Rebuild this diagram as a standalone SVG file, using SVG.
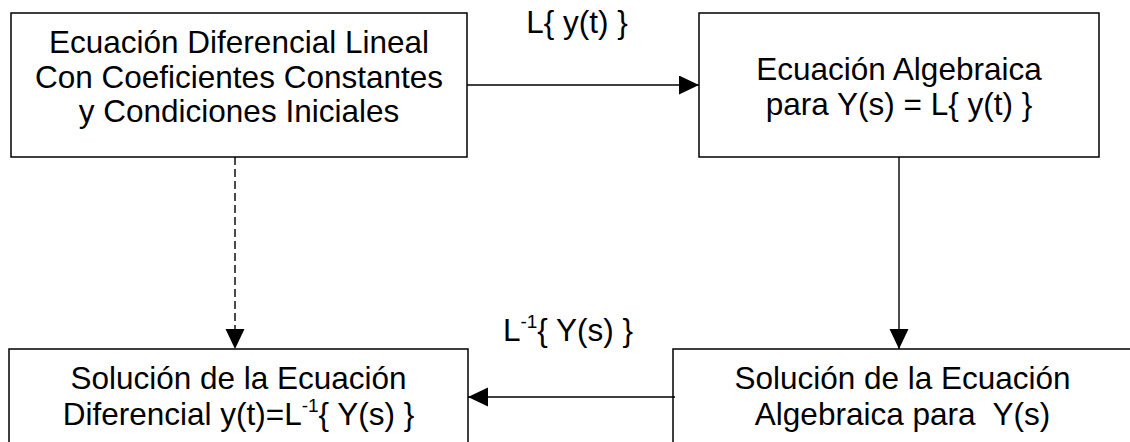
<svg xmlns="http://www.w3.org/2000/svg" width="1130" height="442" viewBox="0 0 1130 442">
  <style>
    .box { fill: #ffffff; stroke: #000000; stroke-width: 1.5; }
    .t { font-family: "Liberation Sans", Arial, sans-serif; font-size: 31.5px; fill: #000000; text-anchor: middle; }
    .sup { font-size: 19px; }
    .con { stroke: #000000; stroke-width: 1.4; fill: none; }
    .dash { stroke-dasharray: 8 4; }
  </style>
  <defs>
    <marker id="arrow" markerUnits="userSpaceOnUse" markerWidth="21" markerHeight="20" refX="20" refY="9.5" orient="auto">
      <path d="M0,0 L20,9.5 L0,19 Z" fill="#000000"/>
    </marker>
  </defs>
  <rect width="1130" height="442" fill="#ffffff"/>

  <g id="n1">
    <rect class="box" x="11" y="13" width="456" height="144"/>
    <text class="t" x="239" y="53">Ecuación Diferencial Lineal</text>
    <text class="t" x="239" y="88">Con Coeficientes Constantes</text>
    <text class="t" x="239" y="122">y Condiciones Iniciales</text>
  </g>

  <g id="n2">
    <rect class="box" x="699" y="13" width="400" height="144"/>
    <text class="t" x="899" y="80">Ecuación Algebraica</text>
    <text class="t" x="899" y="115">para Y(s) = L{ y(t) }</text>
  </g>

  <g id="n3">
    <rect class="box" x="9" y="349" width="459" height="110"/>
    <text class="t" x="238.5" y="389">Solución de la Ecuación</text>
    <text class="t" x="238.5" y="425">Diferencial y(t)=L<tspan class="sup" dy="-13">-1</tspan><tspan dy="13">{ Y(s) }</tspan></text>
  </g>

  <g id="n4">
    <rect class="box" x="673" y="349" width="470" height="110"/>
    <text class="t" x="902.5" y="389">Solución de la Ecuación</text>
    <text class="t" x="902.5" y="425" xml:space="preserve">Algebraica para  Y(s)</text>
  </g>

  <g id="connectors">
    <line class="con" x1="467" y1="85" x2="699" y2="85" marker-end="url(#arrow)"/>
    <text class="t" x="577" y="33">L{ y(t) }</text>
    <line class="con" x1="899" y1="157" x2="899" y2="349" marker-end="url(#arrow)"/>
    <line class="con" x1="675" y1="397" x2="468" y2="397" marker-end="url(#arrow)"/>
    <text class="t" x="568" y="341">L<tspan class="sup" dy="-13">-1</tspan><tspan dy="13">{ Y(s) }</tspan></text>
    <line class="con dash" x1="235" y1="157" x2="235" y2="349" marker-end="url(#arrow)"/>
  </g>
</svg>
